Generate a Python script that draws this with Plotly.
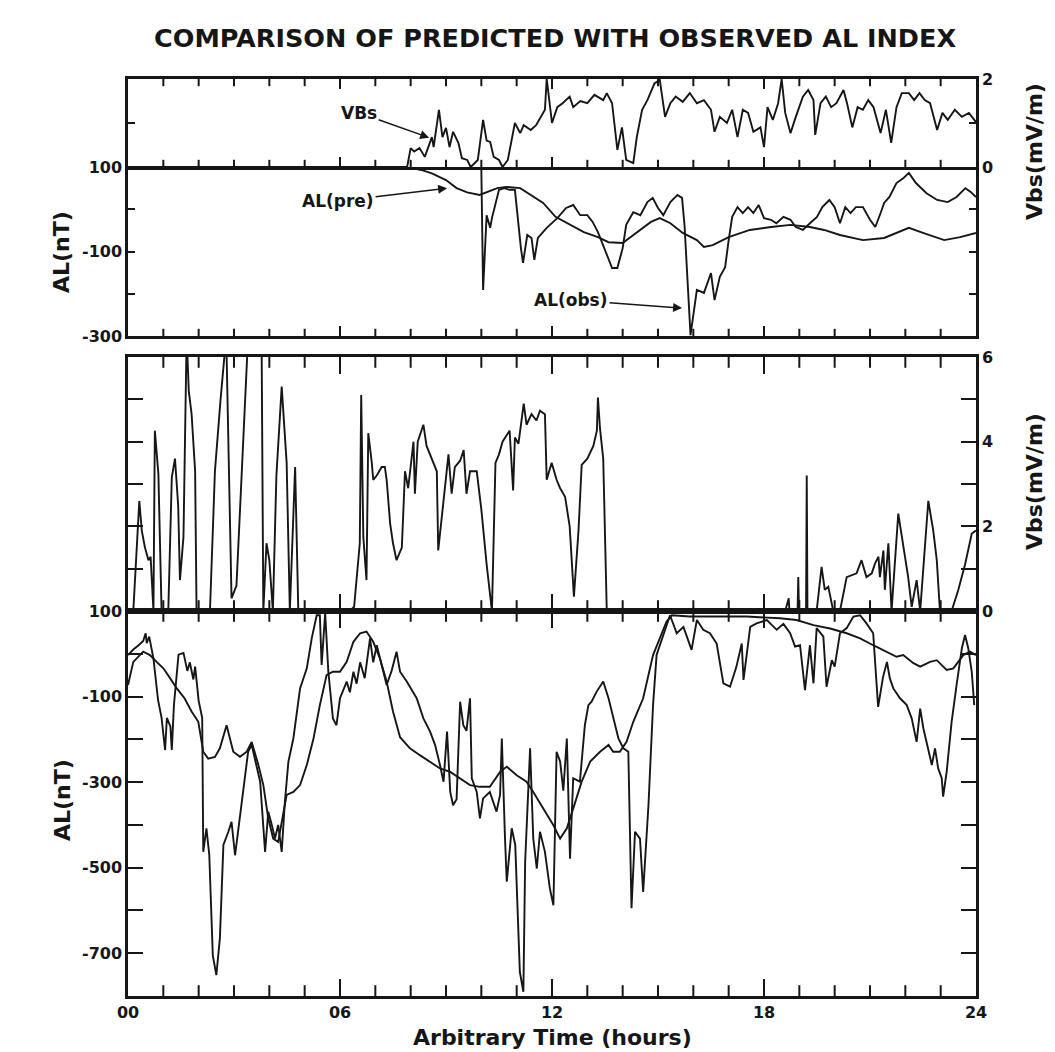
import plotly.graph_objects as go

# ---------------- data (hours, mV/m, nT) ----------------
# Top panel: Vbs (right axis)
top_vbs_t = [0, 7.9, 8.0, 8.1, 8.25, 8.4, 8.6, 8.65, 8.8, 8.9,
             9.0, 9.1, 9.2, 9.35, 9.45, 9.6, 9.7, 9.9, 10.05, 10.15,
             10.25, 10.35, 10.5, 10.6, 10.75, 10.95, 11.1, 11.2, 11.4, 11.55,
             11.8, 11.85, 12.0, 12.15, 12.3, 12.5, 12.6, 12.8, 13.0, 13.2,
             13.45, 13.55, 13.7, 13.85, 13.98, 14.1, 14.3, 14.4, 14.55, 14.7,
             14.9, 15.05, 15.2, 15.35, 15.5, 15.7, 15.9, 16.1, 16.3, 16.5,
             16.6, 16.75, 16.95, 17.1, 17.25, 17.4, 17.55, 17.7, 17.9, 18.0,
             18.1, 18.25, 18.4, 18.5, 18.6, 18.75, 18.9, 19.1, 19.25, 19.4,
             19.45, 19.6, 19.75, 19.9, 20.05, 20.25, 20.35, 20.5, 20.65, 20.8,
             20.95, 21.1, 21.3, 21.45, 21.6, 21.75, 21.9, 22.1, 22.25, 22.4,
             22.55, 22.7, 22.9, 23.05, 23.2, 23.4, 23.6, 23.8, 24.0]
top_vbs = [0, 0, 0.43, 0.35, 0.43, 0.23, 0.68, 0.45, 1.3, 0.68,
           0.89, 0.45, 0.8, 0.55, 0.2, 0.16, 0, 0.16, 1.07, 0.6,
           0.57, 0.23, 0.16, 0, 0.16, 1.0, 0.77, 0.95, 0.84, 0.95,
           1.3, 2.0, 1.0, 1.36, 1.45, 1.6, 1.36, 1.5, 1.45, 1.64,
           1.52, 1.68, 1.45, 0.39, 0.9, 0.16, 0.09, 0.68, 1.3, 1.52,
           1.9, 1.98, 1.14, 1.45, 1.6, 1.48, 1.68, 1.45, 1.52, 1.3,
           0.8, 1.14, 1.0, 1.3, 0.68, 1.3, 1.23, 0.8, 0.9, 0.45,
           1.36, 1.07, 1.45, 2.0, 1.23, 0.77, 1.14, 1.6, 1.75, 1.52,
           0.73, 1.45, 1.6, 1.36, 1.45, 1.75, 1.45, 0.9, 1.36, 1.3,
           1.52, 1.36, 0.77, 1.3, 0.55, 1.36, 1.68, 1.68, 1.52, 1.68,
           1.52, 1.45, 0.84, 1.23, 1.07, 1.3, 1.14, 1.23, 1.02]

# Top panel: AL predicted
top_pre_t = [0, 7.9, 8.3, 8.6, 9.0, 9.3, 9.6, 9.95, 10.45, 10.7,
             11.1, 11.4, 11.75, 12.1, 12.5, 12.9, 13.3, 13.6, 14.0, 14.4,
             14.8, 15.05, 15.35, 15.7, 16.1, 16.3, 16.55, 17.0, 17.6, 18.2,
             18.75, 19.3, 19.7, 20.15, 20.8, 21.4, 21.75, 22.1, 22.5, 23.1,
             23.55, 24.0]
top_pre = [100, 100, 93, 85, 69, 50, 40, 34, 50, 53,
           50, 34, 15, -18, -37, -54, -66, -78, -80, -54,
           -30, -21, -33, -56, -73, -89, -85, -66, -49, -42,
           -37, -42, -49, -61, -73, -68, -56, -44, -56, -73,
           -66, -56]

# Top panel: AL observed
top_obs_t = [0, 9.9, 10.0, 10.05, 10.15, 10.25, 10.3, 10.5, 10.65, 10.8,
             10.95, 11.0, 11.12, 11.18, 11.3, 11.42, 11.5, 11.6, 11.85, 12.15,
             12.4, 12.6, 12.8, 13.0, 13.15, 13.3, 13.45, 13.55, 13.7, 13.85,
             14.0, 14.1, 14.3, 14.5, 14.7, 14.85, 15.0, 15.15, 15.35, 15.55,
             15.68, 15.75, 15.85, 15.92, 16.1, 16.3, 16.5, 16.6, 16.75, 16.9,
             17.0, 17.1, 17.25, 17.4, 17.55, 17.7, 17.85, 18.0, 18.2, 18.35,
             18.55, 18.75, 18.9, 19.1, 19.3, 19.5, 19.65, 19.85, 20.0, 20.15,
             20.3, 20.45, 20.6, 20.8, 21.0, 21.15, 21.3, 21.4, 21.55, 21.75,
             21.95, 22.1, 22.3, 22.6, 22.9, 23.2, 23.45, 23.7, 23.85, 24.0]
top_obs = [100, 97, 95, -191, -14, -44, -21, 46, 50, 46,
           46, 0, -92, -127, -61, -68, -120, -68, -44, -21,
           3, 10, -14, -14, -30, -54, -85, -108, -139, -139,
           -92, -37, -7, -14, 17, 27, 3, -14, 17, 34,
           27, -37, -186, -298, -191, -198, -151, -215, -160, -137,
           -73, -18, 5, -9, 5, -9, 10, -21, -25, -33,
           -18, -25, -42, -49, -33, -18, 5, 22, 5, -33,
           5, -9, 5, 5, -25, -42, -9, 15, 29, 62,
           74, 86, 62, 38, 22, 17, 29, 50, 41, 29]

# Bottom panel: Vbs (right axis)
bot_vbs_t = [0, 0.15, 0.32, 0.39, 0.48, 0.58, 0.64, 0.72, 0.76, 0.86,
             0.95, 1.14, 1.24, 1.33, 1.42, 1.47, 1.57, 1.66, 1.72, 1.8,
             1.9, 1.94, 2.32, 2.46, 2.62, 2.78, 2.93, 3.07, 3.4, 3.6,
             3.78, 3.83, 3.92, 4.0, 4.1, 4.2, 4.35, 4.49, 4.58, 4.73,
             4.82, 6.28, 6.4, 6.56, 6.6, 6.66, 6.75, 6.8, 6.9, 6.94,
             7.04, 7.18, 7.27, 7.32, 7.42, 7.5, 7.6, 7.75, 7.84, 7.93,
             8.08, 8.12, 8.2, 8.36, 8.45, 8.6, 8.74, 8.78, 8.88, 9.07,
             9.16, 9.25, 9.4, 9.5, 9.58, 9.68, 9.87, 10.0, 10.15, 10.3,
             10.4, 10.5, 10.6, 10.8, 10.9, 10.95, 11.05, 11.2, 11.28, 11.42,
             11.56, 11.66, 11.8, 11.85, 11.99, 12.13, 12.23, 12.37, 12.5, 12.62,
             12.75, 12.84, 13.0, 13.17, 13.27, 13.3, 13.36, 13.45, 13.55, 18.6,
             18.7, 18.72, 18.95, 18.97, 18.99, 19.19, 19.21, 19.23, 19.49, 19.63,
             19.72, 19.82, 19.96, 20.15, 20.34, 20.48, 20.62, 20.76, 20.9, 21.05,
             21.14, 21.24, 21.28, 21.38, 21.42, 21.52, 21.61, 21.8, 21.94, 22.08,
             22.18, 22.32, 22.42, 22.65, 22.79, 22.89, 22.98, 23.31, 23.5, 23.69,
             23.88, 24.0]
bot_vbs = [0, 0, 2.6, 1.9, 1.5, 1.2, 1.28, 0, 4.26, 3.24,
           0, 0, 3.16, 3.6, 2.5, 0.73, 1.75, 6.5, 5.2, 4.65,
           3.3, 0, 0, 3.3, 5.0, 6.5, 0.3, 0.6, 6.5, 8.0,
           6.5, 0, 1.6, 1.2, 0, 3.2, 5.3, 3.5, 0, 3.4,
           0, 0, 0.1, 1.6, 5.1, 1.75, 0.73, 4.2, 3.5, 3.1,
           3.2, 3.4, 3.4, 3.1, 2.06, 1.6, 1.2, 1.5, 3.3, 2.9,
           4.0, 2.77, 4.0, 4.4, 3.9, 3.6, 3.3, 1.43, 2.2, 3.7,
           2.77, 3.4, 3.55, 3.8, 2.77, 3.3, 3.3, 2.4, 1.1, 0,
           3.5, 3.7, 4.0, 4.26, 2.85, 4.1, 3.95, 4.9, 4.4, 4.65,
           4.5, 4.73, 4.65, 3.1, 3.5, 3.1, 2.9, 2.7, 2.0, 0.34,
           1.9, 3.45, 3.6, 3.9, 4.26, 5.04, 4.3, 3.6, 0, 0,
           0.3, 0, 0, 0.8, 0, 0, 3.2, 0, 0, 1.04,
           0.5, 0.57, 0, 0, 0.8, 0.85, 0.89, 1.2, 0.8, 0.89,
           1.12, 1.28, 0.8, 1.43, 0.5, 1.6, 0, 2.3, 1.5, 0.8,
           0.1, 0.73, 0, 2.6, 1.9, 1.2, 0, 0, 0.5, 1.1,
           1.83, 1.9]

# Bottom panel: AL observed
bot_obs_t = [0, 0.15, 0.3, 0.43, 0.5, 0.53, 0.6, 0.72, 0.85, 0.95,
             1.05, 1.1, 1.2, 1.24, 1.3, 1.43, 1.57, 1.68, 1.75, 1.85,
             1.9, 2.0, 2.1, 2.13, 2.22, 2.3, 2.4, 2.5, 2.6, 2.7,
             2.84, 2.93, 3.03, 3.15, 3.31, 3.4, 3.5, 3.64, 3.74, 3.88,
             3.97, 4.07, 4.16, 4.25, 4.35, 4.44, 4.54, 4.68, 4.87, 5.06,
             5.2, 5.34, 5.43, 5.48, 5.58, 5.67, 5.8, 5.9, 6.0, 6.19,
             6.28, 6.38, 6.47, 6.57, 6.7, 6.85, 6.94, 7.04, 7.13, 7.23,
             7.32, 7.46, 7.6, 7.7, 7.89, 8.17, 8.36, 8.55, 8.69, 8.83,
             8.93, 9.03, 9.12, 9.2, 9.3, 9.4, 9.49, 9.58, 9.68, 9.73,
             9.87, 9.96, 10.05, 10.24, 10.43, 10.53, 10.58, 10.67, 10.72, 10.86,
             10.96, 11.09, 11.19, 11.24, 11.33, 11.38, 11.47, 11.57, 11.66, 11.8,
             11.94, 12.04, 12.13, 12.23, 12.32, 12.42, 12.51, 12.6, 12.79, 12.93,
             13.03, 13.12, 13.26, 13.45, 13.6, 13.73, 13.88, 14.02, 14.16, 14.25,
             14.35, 14.49, 14.58, 14.73, 14.86, 14.96, 15.15, 15.34, 15.53, 15.72,
             15.95, 16.1, 16.28, 16.47, 16.66, 16.85, 17.04, 17.22, 17.37, 17.42,
             17.61, 17.79, 18.08, 18.36, 18.55, 18.74, 18.88, 19.02, 19.16, 19.3,
             19.4, 19.49, 19.68, 19.77, 19.92, 20.0, 20.15, 20.34, 20.53, 20.72,
             20.9, 21.09, 21.23, 21.37, 21.48, 21.56, 21.66, 21.85, 22.04, 22.18,
             22.32, 22.42, 22.51, 22.65, 22.75, 22.84, 22.93, 23.03, 23.07, 23.17,
             23.31, 23.45, 23.6, 23.69, 23.78, 23.88, 23.95]
bot_obs = [-3, 10, 20, 30, 48, 25, 40, -11, -108, -150,
           -225, -150, -170, -225, -120, -2, 2, -40, -20, -60,
           -30, -110, -150, -463, -408, -470, -705, -751, -666, -447,
           -416, -393, -471, -390, -276, -229, -213, -260, -299, -463,
           -369, -400, -432, -400, -463, -346, -252, -198, -81, -34,
           36, 90, 90, -26, 95, -42, -151, -167, -104, -65,
           -90, -42, -70, -20, -57, 36, -20, 20, -10, -50,
           -73, -40, 5, -42, -65, -104, -151, -182, -213, -260,
           -299, -182, -323, -354, -340, -112, -167, -180, -104, -291,
           -323, -385, -338, -323, -369, -330, -198, -432, -533, -408,
           -447, -744, -790, -486, -323, -221, -432, -502, -416, -463,
           -549, -588, -229, -252, -320, -198, -479, -291, -299, -167,
           -120, -112, -89, -65, -104, -151, -198, -221, -229, -595,
           -416, -432, -557, -354, -120, -3, 44, 90, 48, 63,
           9, 79, 56, 48, 24, -69, -77, -30, 24, -61,
           63, 71, 79, 56, 70, 48, 17, 20, -85, 20,
           -69, 60, 40, -77, -15, -30, 48, 60, 87, 90,
           71, 48, -124, -54, -19, -57, -81, -104, -120, -151,
           -206, -128, -174, -229, -260, -221, -268, -291, -334, -276,
           -159, -73, 13, 44, 13, -42, -120]

# Bottom panel: AL predicted
bot_pre_t = [0, 0.15, 0.43, 0.62, 0.81, 1.0, 1.19, 1.38, 1.6, 1.8,
             1.99, 2.13, 2.27, 2.46, 2.6, 2.79, 2.98, 3.17, 3.36, 3.5,
             3.69, 3.83, 3.97, 4.11, 4.25, 4.35, 4.49, 4.68, 4.87, 5.06,
             5.25, 5.43, 5.62, 5.8, 6.0, 6.19, 6.38, 6.57, 6.75, 6.94,
             7.13, 7.32, 7.5, 7.7, 7.98, 8.26, 8.55, 8.83, 9.12, 9.4,
             9.68, 9.96, 10.24, 10.53, 10.72, 11.0, 11.28, 11.47, 11.75, 12.04,
             12.23, 12.42, 12.6, 12.84, 13.08, 13.36, 13.6, 13.73, 13.92, 14.11,
             14.3, 14.58, 14.86, 15.05, 15.24, 15.39, 15.9, 16.57, 17.51, 18.45,
             18.92, 19.4, 19.87, 20.34, 20.72, 21.09, 21.47, 21.75, 21.94, 22.23,
             22.42, 22.7, 22.89, 23.17, 23.36, 23.64, 23.83, 24.0]
bot_pre = [-73, -19, 5, -3, -19, -34, -57, -81, -104, -135,
           -159, -229, -245, -241, -221, -167, -229, -241, -229, -206,
           -260, -307, -385, -432, -440, -393, -330, -323, -307, -260,
           -198, -120, -50, -42, -42, -19, 28, 48, 52, 28,
           -11, -65, -135, -195, -221, -237, -252, -268, -276, -291,
           -307, -311, -311, -276, -264, -284, -299, -323, -362, -401,
           -432, -408, -362, -299, -252, -229, -213, -229, -229, -206,
           -159, -104, -3, 36, 75, 90, 87, 87, 87, 83,
           79, 67, 59, 48, 36, 20, 5, -7, -3, -22,
           -30, -19, -15, -38, -34, -3, 5, -3]

# Axis ranges, tick positions / labels
TOP_VBS_RANGE = [0, 2]
TOP_AL_RANGE = [-300, 100]
BOT_VBS_RANGE = [0, 6]
BOT_AL_RANGE = [-800, 100]
hour_major = [0, 6, 12, 18, 24]
hour_labels = ["00", "06", "12", "18", "24"]
hour_minor = [h for h in range(1, 24) if h % 6 != 0]
al_top_ticks = [-300, -100, 100]
al_top_minor = [-300, -200, -100, 0, 100]
vbs_top_ticks = [0, 2]
vbs_top_minor = [0, 1, 2]
al_bot_ticks = [-700, -500, -300, -100, 100]
al_bot_minor = list(range(-800, 101, 100))
vbs_bot_ticks = [0, 2, 4, 6]
vbs_bot_minor = [0, 1, 2, 3, 4, 5, 6]

# ---------------- styling ----------------
W, H = 1055, 1052
INK = "#161616"
FONT = "DejaVu Sans"

# pixel rows of the panel edges (top, bottom) for each sub-axis
PIX = {"y": (79, 167), "y2": (167, 336), "y3": (357, 611), "y4": (611, 996)}
RANGES = {"y": TOP_VBS_RANGE, "y2": TOP_AL_RANGE, "y3": BOT_VBS_RANGE, "y4": BOT_AL_RANGE}


def py(p):
    return 1 - p / H


def px(p):
    return p / W


def per_px(ya):
    r = RANGES[ya]
    t, b = PIX[ya]
    return (r[1] - r[0]) / (b - t)


XDOM = [px(128), px(976)]
line = dict(color=INK, width=1.9)

fig = go.Figure()
fig.add_trace(go.Scatter(x=top_vbs_t, y=top_vbs, xaxis="x", yaxis="y", mode="lines", line=line))
fig.add_trace(go.Scatter(x=top_pre_t, y=top_pre, xaxis="x2", yaxis="y2", mode="lines", line=line))
fig.add_trace(go.Scatter(x=top_obs_t, y=top_obs, xaxis="x2", yaxis="y2", mode="lines", line=line))
fig.add_trace(go.Scatter(x=bot_vbs_t, y=bot_vbs, xaxis="x3", yaxis="y3", mode="lines", line=line))
fig.add_trace(go.Scatter(x=bot_pre_t, y=bot_pre, xaxis="x4", yaxis="y4", mode="lines", line=line))
fig.add_trace(go.Scatter(x=bot_obs_t, y=bot_obs, xaxis="x4", yaxis="y4", mode="lines", line=line))

# Hourly time ticks: short vertical-line markers centred half a tick-length
# inside each frame line (so nothing sits on the range edge).
# (x axis, y axis, edge value, direction into the plot, tick length px)
tick_rows = [
    ("x", "y", TOP_VBS_RANGE[1], -1, 6),    # top frame of upper panel
    ("x", "y", TOP_VBS_RANGE[0], 1, 6),     # upper-panel zero line (up)
    ("x2", "y2", TOP_AL_RANGE[0], 1, 6),    # bottom frame of upper panel
    ("x3", "y3", BOT_VBS_RANGE[1], -1, 9),  # top frame of lower panel
    ("x3", "y3", BOT_VBS_RANGE[0], 1, 9),   # lower zero line (up)
    ("x4", "y4", BOT_AL_RANGE[1], -1, 9),   # lower zero line (down)
    ("x4", "y4", BOT_AL_RANGE[0], 1, 9),    # bottom frame of lower panel
]
for xa, ya, edge, sign, tl in tick_rows:
    yc = edge + sign * (tl / 2.0) * per_px(ya)
    fig.add_trace(go.Scatter(
        x=hour_minor, y=[yc] * len(hour_minor), xaxis=xa, yaxis=ya,
        mode="markers", cliponaxis=False, hoverinfo="skip", showlegend=False,
        marker=dict(symbol="line-ns-open", size=tl, color=INK,
                    line=dict(color=INK, width=2))))

tickfont = dict(family=FONT, size=16, color=INK, weight="bold")


def xax(anchor, side, mirror, tlen, labels=False, match="x"):
    d = dict(domain=XDOM, anchor=anchor, side=side, range=[0, 24],
             showline=True, linecolor=INK, linewidth=2.5, mirror=mirror,
             ticks="inside", tickmode="array", tickvals=hour_major,
             ticktext=hour_labels, ticklen=tlen, tickwidth=2, tickcolor=INK,
             showgrid=False, zeroline=False, showticklabels=labels,
             tickfont=tickfont, fixedrange=True, automargin=False)
    if match:
        d["matches"] = match
    return d


def yax(anchor, side, ya, major, minor, tlen):
    t, b = PIX[ya]
    return dict(domain=[py(b), py(t)], anchor=anchor, side=side, range=RANGES[ya],
                showline=True, linecolor=INK, linewidth=2.5, mirror="ticks",
                ticks="inside", tickmode="array", tickvals=major,
                ticktext=[str(v) for v in major], ticklen=tlen,
                tickwidth=2, tickcolor=INK,
                minor=dict(tickmode="array", tickvals=minor, ticklen=tlen,
                           tickwidth=2, tickcolor=INK, ticks="inside",
                           showgrid=False),
                showgrid=False, zeroline=False, tickfont=tickfont,
                fixedrange=True, automargin=False)


fig.update_layout(
    width=W, height=H,
    margin=dict(l=0, r=0, t=0, b=0),
    paper_bgcolor="white", plot_bgcolor="white",
    showlegend=False,
    font=dict(family=FONT, color=INK),
    xaxis=xax("y", "top", "ticks", 10, match=None),
    xaxis2=xax("y2", "bottom", False, 10),
    xaxis3=xax("y3", "top", "ticks", 17),
    xaxis4=xax("y4", "bottom", "ticks", 17, labels=True),
    yaxis=yax("x", "right", "y", vbs_top_ticks, vbs_top_minor, 7),
    yaxis2=yax("x2", "left", "y2", al_top_ticks, al_top_minor, 7),
    yaxis3=yax("x3", "right", "y3", vbs_bot_ticks, vbs_bot_minor, 15),
    yaxis4=yax("x4", "left", "y4", al_bot_ticks, al_bot_minor, 15),
)

big = dict(family=FONT, size=22, color=INK, weight="bold")
notes = [
    dict(text="COMPARISON OF PREDICTED WITH OBSERVED AL INDEX", x=px(555), y=py(38),
         font=dict(family=FONT, size=25.5, color=INK, weight="bold")),
    dict(text="Arbitrary Time (hours)", x=px(552), y=py(1037),
         font=dict(family=FONT, size=22, color=INK, weight="bold")),
    dict(text="AL(nT)", x=px(62), y=py(252), textangle=-90, font=big),
    dict(text="AL(nT)", x=px(62), y=py(800), textangle=-90, font=big),
    dict(text="Vbs(mV/m)", x=px(1034), y=py(152), textangle=-90, font=big),
    dict(text="Vbs(mV/m)", x=px(1034), y=py(482), textangle=-90, font=big),
]
for n in notes:
    fig.add_annotation(xref="paper", yref="paper", showarrow=False,
                       xanchor="center", yanchor="middle", **n)

lab = dict(family=FONT, size=17, color=INK, weight="bold")
arrow = dict(showarrow=True, arrowhead=2, arrowsize=1.2, arrowwidth=1.5,
             arrowcolor=INK, font=lab, standoff=1)
fig.add_annotation(text="VBs", x=8.55, y=0.66, xref="x", yref="y", ax=-71, ay=-25, **arrow)
fig.add_annotation(text="AL(pre)", x=9.06, y=50, xref="x2", yref="y2", ax=-110, ay=13, **arrow)
fig.add_annotation(text="AL(obs)", x=15.71, y=-234, xref="x2", yref="y2", ax=-112, ay=-8, **arrow)

fig.write_html("out.html")
